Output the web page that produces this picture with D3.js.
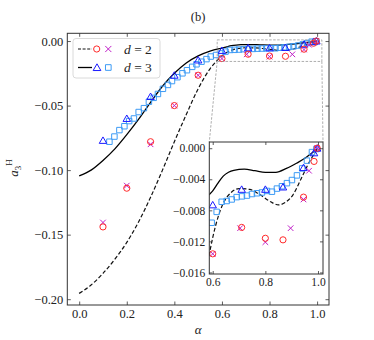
<!DOCTYPE html>
<html lang="en">
<head>
<meta charset="UTF-8">
<title>a3H vs alpha</title>
<script src="https://cdn.jsdelivr.net/npm/d3@7"></script>
<style>
  body { margin: 0; background: #fff; }
  text { font-family: "Liberation Serif", "DejaVu Serif", serif; fill: #222; }
</style>
</head>
<body>
<div id="chart"></div>
<script>
// ---- data ----
// d = 3, solid curve
const alphaSolid = [0, 0.05, 0.10, 0.15, 0.20, 0.25, 0.30, 0.35, 0.40, 0.45, 0.50, 0.55, 0.58, 0.60, 0.62, 0.64, 0.66, 0.68, 0.72, 0.76, 0.80, 0.84, 0.88, 0.92, 0.95, 0.97, 1.0];
const valSolid   = [-0.1045, -0.1000, -0.0925, -0.0835, -0.0725, -0.0605, -0.0475, -0.0350, -0.0250, -0.0170, -0.0115, -0.0078, -0.0062, -0.0055, -0.0045, -0.0036, -0.0031, -0.00285, -0.0027, -0.0029, -0.0031, -0.0031, -0.0026, -0.0019, -0.0013, -0.0008, 0];
// d = 2, dashed curve
const alphaDashed = [0, 0.05, 0.10, 0.15, 0.20, 0.25, 0.30, 0.35, 0.40, 0.45, 0.50, 0.55, 0.58, 0.60, 0.62, 0.64, 0.67, 0.70, 0.74, 0.78, 0.82, 0.85, 0.875, 0.905, 0.935, 0.965, 1.0];
const valDashed   = [-0.1955, -0.1890, -0.1800, -0.1690, -0.1560, -0.1400, -0.1210, -0.1000, -0.0780, -0.0570, -0.0370, -0.0215, -0.0150, -0.0115, -0.0089, -0.0071, -0.0057, -0.0052, -0.0053, -0.0060, -0.0069, -0.0073, -0.0070, -0.0060, -0.0040, -0.0019, 0];
// d = 2 markers
const alphaCirc = [0.1, 0.2, 0.3, 0.4, 0.5, 0.6, 0.71, 0.8, 0.867, 0.945, 0.985, 0.997];
const valCirc   = [-0.144, -0.114, -0.078, -0.050, -0.0265, -0.0136, -0.0102, -0.0116, -0.0118, -0.0063, -0.0017, 0];
const alphaCross = [0.1, 0.2, 0.3, 0.4, 0.5, 0.6, 0.704, 0.8, 0.896, 0.945, 0.966, 0.997];
const valCross   = [-0.1406, -0.112, -0.080, -0.050, -0.0265, -0.0136, -0.0103, -0.0121, -0.0103, -0.0066, -0.0029, 0];
// d = 3 markers
const alphaTri = [0.1, 0.2, 0.3, 0.4, 0.5, 0.6, 0.71, 0.8, 0.867, 0.945, 0.985, 0.997];
const valTri   = [-0.077, -0.060, -0.043, -0.0265, -0.0147, -0.0073, -0.0053, -0.0053, -0.0050, -0.0025, -0.0006, 0];
const alphaSq = [0.127, 0.148, 0.169, 0.19, 0.21, 0.23, 0.25, 0.272, 0.293, 0.313, 0.331, 0.352, 0.373, 0.39, 0.413, 0.434, 0.453, 0.475, 0.493, 0.514, 0.535, 0.553, 0.575,
                 0.596, 0.615, 0.634, 0.653, 0.672, 0.691, 0.711, 0.730, 0.749, 0.768, 0.787, 0.806, 0.825, 0.844, 0.863, 0.882, 0.901, 0.920, 0.940, 0.958, 0.977, 0.994];
const valSq   = [-0.078, -0.074, -0.069, -0.066, -0.062, -0.060, -0.055, -0.052, -0.047, -0.044, -0.041, -0.037, -0.034, -0.031, -0.028, -0.025, -0.0226, -0.020, -0.018, -0.016, -0.014, -0.012, -0.0108,
                 -0.0096, -0.0082, -0.0069, -0.0068, -0.0066, -0.0063, -0.0062, -0.0061, -0.0059, -0.0058, -0.0057, -0.0055, -0.0056, -0.0052, -0.0049, -0.0045, -0.0041, -0.0035, -0.0026, -0.0016, -0.0005, -0.0001];
// ticks
const xTicksMain = [0, 0.2, 0.4, 0.6, 0.8, 1.0];
const yTicksMain = [0, -0.05, -0.10, -0.15, -0.20];
const xTicksInset = [0.6, 0.8, 1.0];
const yTicksInset = [0, -0.004, -0.008, -0.012, -0.016];
const legendLabels = ["2", "3"];

// colours
const cDash = "#111", cCirc = "#ff2a2a", cCross = "#c020c8", cTri = "#1a1aff", cSq = "#3d9bf5";

const W = 374, H = 340;
const svg = d3.select("#chart").append("svg")
    .attr("width", W).attr("height", H);
svg.append("rect").attr("width", W).attr("height", H).attr("fill", "#fff");

// main axes box
const box = {left: 67.3, right: 329, top: 33.3, bottom: 305};
const x = d3.scaleLinear().domain([-0.05, 1.05]).range([box.left, box.right]);
const y = d3.scaleLinear().domain([-0.2045, 0.006]).range([box.bottom, box.top]);

// inset box
const ibox = {left: 209.3, right: 323, top: 142, bottom: 274};
const xi = d3.scaleLinear().domain([0.587, 1.019]).range([ibox.left, ibox.right]);
const yi = d3.scaleLinear().domain([-0.0162, 0.0008]).range([ibox.bottom, ibox.top]);

const toPts = (a, v) => a.map((d, i) => [d, v[i]]);

function drawData(g, xs, ys) {
    const line = d3.line().x(d => xs(d[0])).y(d => ys(d[1])).curve(d3.curveMonotoneX);
    g.append("path").datum(toPts(alphaSolid, valSolid))
        .attr("d", line).attr("fill", "none").attr("stroke", "#000").attr("stroke-width", 1.3);
    g.append("path").datum(toPts(alphaDashed, valDashed))
        .attr("d", line).attr("fill", "none").attr("stroke", cDash).attr("stroke-width", 1.2)
        .attr("stroke-dasharray", "4,2.2");

    g.selectAll(".sq").data(toPts(alphaSq, valSq)).enter().append("path")
        .attr("d", d3.symbol(d3.symbolSquare, 30))
        .attr("transform", d => "translate(" + xs(d[0]) + "," + ys(d[1]) + ")")
        .attr("fill", "none").attr("stroke", cSq).attr("stroke-width", 1);
    g.selectAll(".tri").data(toPts(alphaTri, valTri)).enter().append("path")
        .attr("d", d3.symbol(d3.symbolTriangle, 24))
        .attr("transform", d => "translate(" + xs(d[0]) + "," + (ys(d[1]) + 0.8) + ")")
        .attr("fill", "none").attr("stroke", cTri).attr("stroke-width", 1);
    g.selectAll(".cross").data(toPts(alphaCross, valCross)).enter().append("path")
        .attr("d", d3.symbol(d3.symbolX, 22))
        .attr("transform", d => "translate(" + xs(d[0]) + "," + ys(d[1]) + ")")
        .attr("fill", "none").attr("stroke", cCross).attr("stroke-width", 1);
    g.selectAll(".circ").data(toPts(alphaCirc, valCirc)).enter().append("circle")
        .attr("cx", d => xs(d[0])).attr("cy", d => ys(d[1])).attr("r", 3.1)
        .attr("fill", "none").attr("stroke", cCirc).attr("stroke-width", 1);
}

function drawAxes(g, xs, ys, b, xt, yt, fx, fy, fs, tl) {
    const ax = [
        [d3.axisBottom(xs).tickValues(xt).tickFormat(fx), "translate(0," + b.bottom + ")"],
        [d3.axisTop(xs).tickValues(xt).tickFormat(""), "translate(0," + b.top + ")"],
        [d3.axisLeft(ys).tickValues(yt).tickFormat(fy), "translate(" + b.left + ",0)"],
        [d3.axisRight(ys).tickValues(yt).tickFormat(""), "translate(" + b.right + ",0)"]
    ];
    ax.forEach(a => {
        const gg = g.append("g").attr("transform", a[1])
            .call(a[0].tickSizeInner(-tl).tickSizeOuter(0).tickPadding(4));
        gg.attr("font-family", null);
        gg.select(".domain").remove();
        gg.selectAll("line").attr("stroke", "#333").attr("stroke-width", 0.8);
        gg.selectAll("text").attr("font-size", fs).attr("fill", "#222");
    });
    g.append("rect").attr("x", b.left).attr("y", b.top)
        .attr("width", b.right - b.left).attr("height", b.bottom - b.top)
        .attr("fill", "none").attr("stroke", "#333").attr("stroke-width", 1);
}

// ---- main panel ----
const main = svg.append("g");
drawData(main, x, y);

// zoom indicator rectangle + connectors
const zr = {x0: 0.58, x1: 1.02, y0: -0.0158, y1: 0.0009};
main.append("rect")
    .attr("x", x(zr.x0)).attr("y", y(zr.y1))
    .attr("width", x(zr.x1) - x(zr.x0)).attr("height", y(zr.y0) - y(zr.y1))
    .attr("fill", "none").attr("stroke", "#999").attr("stroke-width", 0.8).attr("stroke-dasharray", "2.5,1.5");
main.append("line").attr("x1", x(zr.x0)).attr("y1", y(zr.y0)).attr("x2", ibox.left).attr("y2", ibox.top)
    .attr("stroke", "#999").attr("stroke-width", 0.8).attr("stroke-dasharray", "2.5,1.5");
main.append("line").attr("x1", x(zr.x1)).attr("y1", y(zr.y0)).attr("x2", ibox.right).attr("y2", ibox.top)
    .attr("stroke", "#999").attr("stroke-width", 0.8).attr("stroke-dasharray", "2.5,1.5");

drawAxes(main, x, y, box, xTicksMain, yTicksMain, d3.format(".1f"), d3.format(".2f"), 12.5, 3.5);

// ---- legend ----
const leg = svg.append("g");
leg.append("rect").attr("x", 73).attr("y", 38.5).attr("width", 87).attr("height", 39.5)
    .attr("rx", 3).attr("fill", "#fff").attr("fill-opacity", 0.85)
    .attr("stroke", "#d0d0d0").attr("stroke-width", 0.8);
const rows = [49, 67.5];
leg.append("line").attr("x1", 78).attr("x2", 92).attr("y1", rows[0]).attr("y2", rows[0])
    .attr("stroke", cDash).attr("stroke-width", 1.2).attr("stroke-dasharray", "3,1.6");
leg.append("circle").attr("cx", 96.7).attr("cy", rows[0]).attr("r", 3.1)
    .attr("fill", "none").attr("stroke", cCirc);
leg.append("path").attr("d", d3.symbol(d3.symbolX, 26)).attr("transform", "translate(108.3," + rows[0] + ")")
    .attr("fill", "none").attr("stroke", cCross);
leg.append("line").attr("x1", 78).attr("x2", 92).attr("y1", rows[1]).attr("y2", rows[1])
    .attr("stroke", "#000").attr("stroke-width", 1.3);
leg.append("path").attr("d", d3.symbol(d3.symbolTriangle, 26)).attr("transform", "translate(97," + (rows[1] + 0.8) + ")")
    .attr("fill", "none").attr("stroke", cTri);
leg.append("path").attr("d", d3.symbol(d3.symbolSquare, 32)).attr("transform", "translate(108.3," + rows[1] + ")")
    .attr("fill", "none").attr("stroke", cSq);
legendLabels.forEach((lab, i) => {
    const t = leg.append("text").attr("x", 124).attr("y", rows[i] + 4.5).attr("font-size", 13.5);
    t.append("tspan").attr("font-style", "italic").text("d");
    t.append("tspan").text(" = " + lab);
});

// ---- inset ----
const inset = svg.append("g");
inset.append("rect").attr("x", ibox.left).attr("y", ibox.top)
    .attr("width", ibox.right - ibox.left).attr("height", ibox.bottom - ibox.top).attr("fill", "#fff");
svg.append("clipPath").attr("id", "iclip").append("rect")
    .attr("x", ibox.left).attr("y", ibox.top)
    .attr("width", ibox.right - ibox.left).attr("height", ibox.bottom - ibox.top);
const idata = inset.append("g").attr("clip-path", "url(#iclip)");
drawData(idata, xi, yi);
drawAxes(inset, xi, yi, ibox, xTicksInset, yTicksInset, d3.format(".1f"), d3.format(".3f"), 11.5, 3);

// ---- titles ----
svg.append("text").attr("x", (box.left + box.right) / 2).attr("y", 21)
    .attr("text-anchor", "middle").attr("font-size", 12.5).text("(b)");
svg.append("text").attr("x", (box.left + box.right) / 2).attr("y", 334)
    .attr("text-anchor", "middle").attr("font-size", 13).attr("font-style", "italic").text("α");
const yl = svg.append("text").attr("transform", "translate(18,168) rotate(-90)")
    .attr("text-anchor", "middle").attr("font-size", 13);
yl.append("tspan").attr("font-style", "italic").text("a");
yl.append("tspan").attr("font-size", 9).attr("dy", 3).text("3");
yl.append("tspan").attr("font-size", 9).attr("dy", -9).text("H");
</script>
</body>
</html>
